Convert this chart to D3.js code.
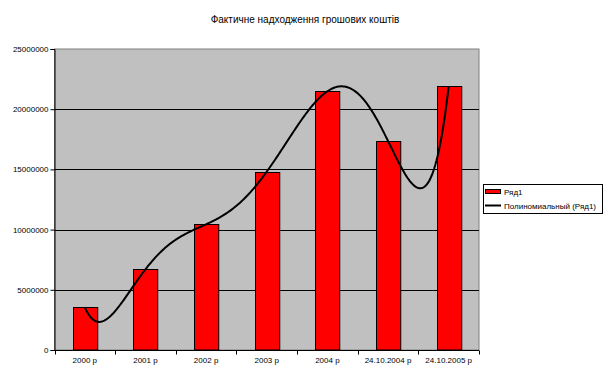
<!DOCTYPE html>
<html><head><meta charset="utf-8">
<script src="https://cdn.jsdelivr.net/npm/d3@7"></script>
<style>body{margin:0;background:#fff}svg{display:block;font-family:"Liberation Sans",Arial,sans-serif}</style>
</head><body><svg id="c" width="612" height="380"></svg>
<script>
const title = "Фактичне надходження грошових коштів";
const categories = ["2000 р","2001 р","2002 р","2003 р","2004 р","24.10.2004 р","24.10.2005 р"];
const values = [3550000, 6700000, 10440000, 14810000, 21490000, 17360000, 21900000];
const yTicks = [0, 5000000, 10000000, 15000000, 20000000, 25000000];
const seriesName = "Ряд1";
const trendName = "Полиномиальный (Ряд1)";

const svg = d3.select("#c");
const L = 54.5, R = 479, T = 49, B = 350;
const x = d3.scaleBand().domain(categories).range([L, R]).paddingInner(0.6).paddingOuter(0.3);
const xb = d3.scaleBand().domain(categories).range([L, R]);
const y = d3.scaleLinear().domain([0, 25000000]).range([B, T]);

svg.append("rect").attr("x", L).attr("y", T).attr("width", R - L).attr("height", B - T)
  .attr("fill", "#c0c0c0").attr("stroke", "#808080").attr("stroke-width", 1);

svg.append("g").selectAll("line").data(yTicks.filter(d => d > 0 && d < 25000000)).join("line")
  .attr("x1", L).attr("x2", R).attr("y1", d => Math.round(y(d)) + 0.5).attr("y2", d => Math.round(y(d)) + 0.5)
  .attr("stroke", "#000").attr("stroke-width", 1);

svg.append("g").selectAll("rect").data(values).join("rect")
  .attr("x", (d, i) => Math.round(x(categories[i])) + 0.5)
  .attr("y", d => Math.round(y(d)) + 0.5)
  .attr("width", x.bandwidth())
  .attr("height", d => B - Math.round(y(d)) - 0.5)
  .attr("fill", "#ff0000").attr("stroke", "#000").attr("stroke-width", 1);

// axes
const yAxis = d3.axisLeft(y).tickValues(yTicks).tickSize(4).tickFormat(d3.format("d"));
const gy = svg.append("g").attr("transform", `translate(${L},0)`).call(yAxis);
gy.select(".domain").attr("stroke", "#000");
gy.selectAll(".tick text").attr("font-size", 8).attr("x", -6).attr("fill", "#000");

const gx = svg.append("g").attr("transform", `translate(0,${B + 0.5})`);
gx.append("line").attr("x1", L).attr("x2", R).attr("stroke", "#000");
gx.selectAll(".t").data(categories.concat(["end"])).join("line")
  .attr("x1", (d, i) => Math.round(L + i * xb.bandwidth()) + 0.5)
  .attr("x2", (d, i) => Math.round(L + i * xb.bandwidth()) + 0.5)
  .attr("y1", 0).attr("y2", 4).attr("stroke", "#000");
gx.selectAll("text").data(categories).join("text")
  .attr("x", d => xb(d) + xb.bandwidth() / 2).attr("y", 12)
  .attr("text-anchor", "middle").attr("font-size", 8).text(d => d);

// polynomial trendline (order 6) through the data points
const xs = values.map((d, i) => i + 1);
function poly(t) {
  let s = 0;
  for (let i = 0; i < xs.length; i++) {
    let p = values[i];
    for (let j = 0; j < xs.length; j++) if (j !== i) p *= (t - xs[j]) / (xs[i] - xs[j]);
    s += p;
  }
  return s;
}
const xc = d3.scaleLinear().domain([1, categories.length])
  .range([xb(categories[0]) + xb.bandwidth() / 2, xb(categories[categories.length - 1]) + xb.bandwidth() / 2]);
const ts = d3.range(1, 7.0001, 0.02);
svg.append("path").datum(ts)
  .attr("d", d3.line().x(t => xc(t)).y(t => y(poly(t))))
  .attr("fill", "none").attr("stroke", "#000").attr("stroke-width", 2);

// title
svg.append("text").attr("x", 305).attr("y", 23).attr("text-anchor", "middle")
  .attr("font-size", 10).text(title);

// legend
const lg = svg.append("g");
lg.append("rect").attr("x", 483.5).attr("y", 184.5).attr("width", 119).attr("height", 29)
  .attr("fill", "#fff").attr("stroke", "#000");
lg.append("rect").attr("x", 485.5).attr("y", 189.5).attr("width", 15).attr("height", 4)
  .attr("fill", "#ff0000").attr("stroke", "#000");
lg.append("text").attr("x", 504).attr("y", 195).attr("font-size", 8).text(seriesName);
lg.append("line").attr("x1", 485).attr("x2", 501).attr("y1", 205.5).attr("y2", 205.5)
  .attr("stroke", "#000").attr("stroke-width", 2);
lg.append("text").attr("x", 504).attr("y", 208.5).attr("font-size", 8).text(trendName);
</script></body></html>
